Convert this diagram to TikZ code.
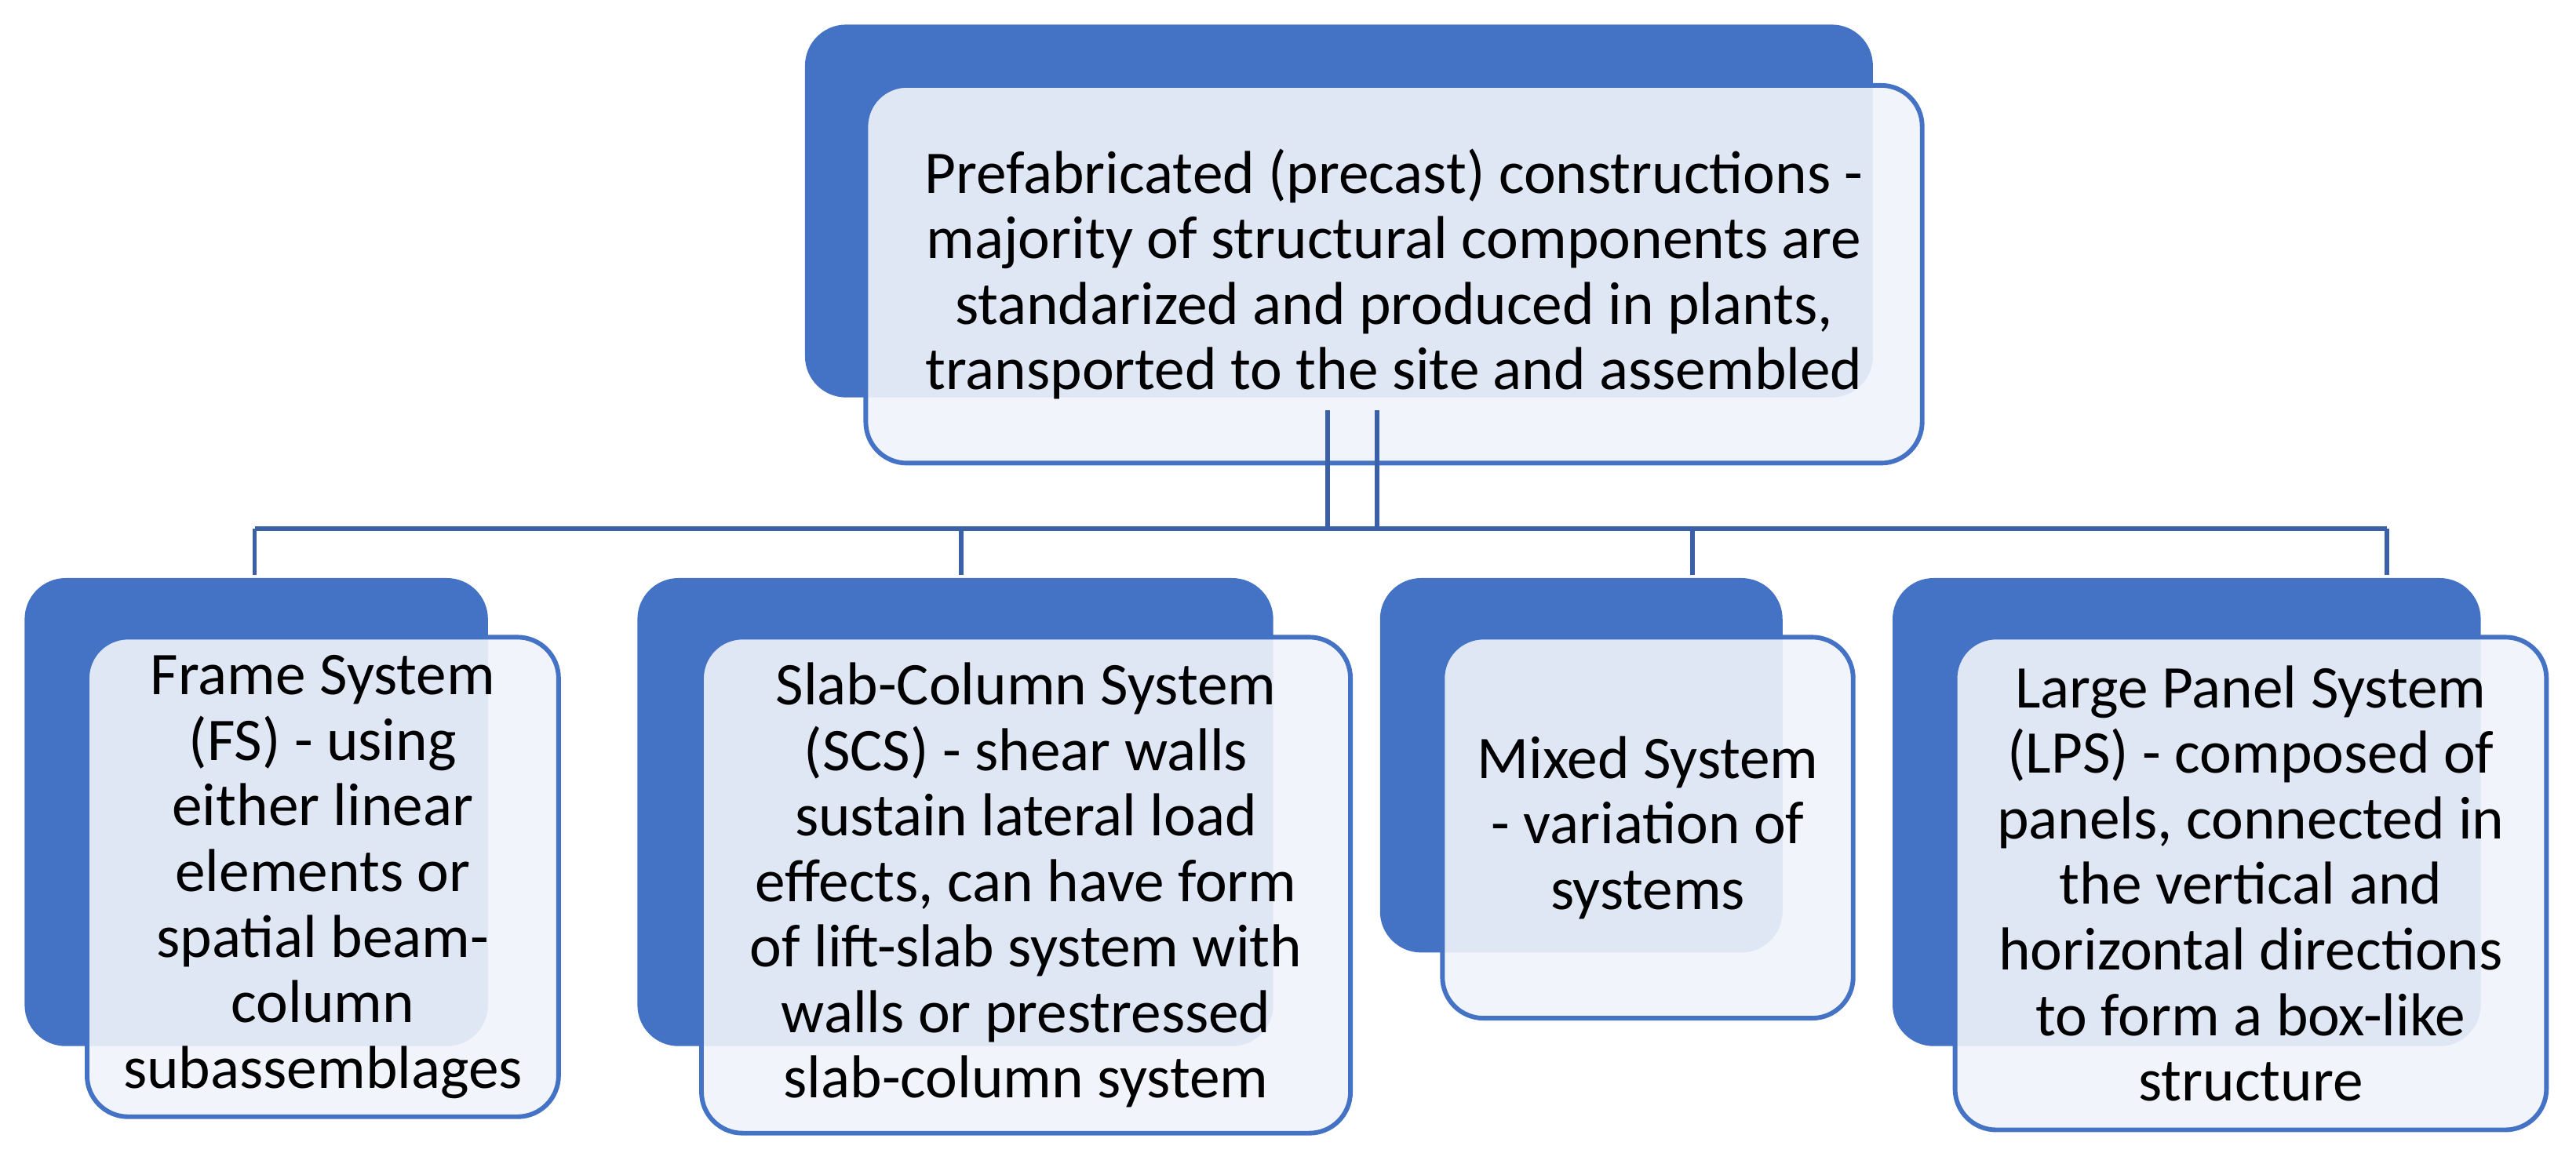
\documentclass[tikz,border=0pt]{standalone}
\usepackage{fontspec}
\setmainfont{Carlito}
\usetikzlibrary{positioning, calc}
\definecolor{pblue}{HTML}{4472C4}
\definecolor{plight}{HTML}{F0F3FA}
\tikzset{
  back/.style={rectangle, rounded corners=0.5cm, fill=pblue, draw=none},
  front/.style={rectangle, rounded corners=0.5cm, fill=plight, fill opacity=0.9, text opacity=1, draw=pblue, line width=1.6pt, align=center, font=\fontsize{21}{22.7}\selectfont},
  link/.style={draw=pblue!85!black, line width=1.6pt}
}
\begin{document}
\begin{tikzpicture}
\useasboundingbox (0,0) rectangle (31.36,-14.04);

% top
\node[back, minimum width=13cm, minimum height=4.54cm] (topb) at (16.3,-2.57) {};
\node[front, minimum width=12.86cm, minimum height=4.6cm] (top) at (16.97,-3.34)
 {Prefabricated (precast) constructions -\\ majority of structural components are\\ standarized and produced in plants,\\ transported to the site and assembled};

% bottom row
\node[back, minimum width=5.64cm, minimum height=5.7cm] (fsb) at (3.12,-9.89) {};
\node[front, minimum width=5.74cm, minimum height=5.84cm] (fs) at (3.93,-10.68)
 {Frame System\\ (FS) - using\\ either linear\\ elements or\\ spatial beam-\\ column\\ subassemblages};
\node[back, minimum width=7.74cm, minimum height=5.7cm] (scsb) at (11.63,-9.89) {};
\node[front, minimum width=7.9cm, minimum height=6.04cm] (scs) at (12.49,-10.78)
 {Slab-Column System\\ (SCS) - shear walls\\ sustain lateral load\\ effects, can have form\\ of lift-slab system with\\ walls or prestressed\\ slab-column system};
\node[back, minimum width=4.9cm, minimum height=4.56cm] (msb) at (19.25,-9.32) {};
\node[front, minimum width=5cm, minimum height=4.64cm] (ms) at (20.06,-10.08)
 {Mixed System\\ - variation of\\ systems};
\node[back, minimum width=7.16cm, minimum height=5.7cm] (lpsb) at (26.62,-9.89) {};
\node[front, minimum width=7.2cm, minimum height=6cm] (lps) at (27.4,-10.76)
 {Large Panel System\\ (LPS) - composed of\\ panels, connected in\\ the vertical and\\ horizontal directions\\ to form a box-like\\ structure};

%connections
\coordinate (busl) at (3.1,-6.44);
\coordinate (busr) at (29.06,-6.44);
\coordinate (ta) at (16.16,-5.0);
\coordinate (tb) at (16.76,-5.0);
\draw[link] (ta) -- (ta |- busl);
\draw[link] (tb) -- (tb |- busl);
\draw[link] (busl) -- (busr);
\draw[link] (busl) -- (3.1,-7.0);
\draw[link] (11.7,-6.44) -- (11.7,-7.0);
\draw[link] (20.6,-6.44) -- (20.6,-7.0);
\draw[link] (busr) -- (29.06,-7.0);
\end{tikzpicture}
\end{document}
